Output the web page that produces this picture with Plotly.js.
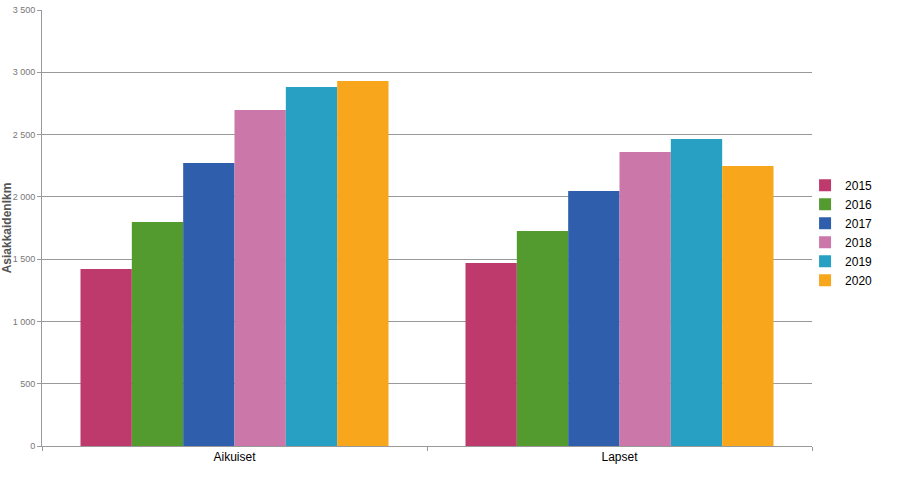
<!DOCTYPE html>
<html>
<head>
<meta charset="utf-8">
<script src="https://cdn.plot.ly/plotly-3.0.1.min.js"></script>
<style>html,body{margin:0;padding:0;background:#fff;}#chart{width:897px;height:478px;}</style>
</head>
<body>
<div id="chart"></div>
<script>
var categories = ["Aikuiset", "Lapset"];
var years = ["2015", "2016", "2017", "2018", "2019", "2020"];
var values2015 = [1421, 1469];
var values2016 = [1798, 1726];
var values2017 = [2272, 2047];
var values2018 = [2697, 2360];
var values2019 = [2882, 2464];
var values2020 = [2930, 2248];
var colors = ["#BE3A6D", "#549B2F", "#2F5FAC", "#CB77AA", "#28A0C3", "#F8A61B"];

var seriesValues = [values2015, values2016, values2017, values2018, values2019, values2020];
var traces = years.map(function (y, i) {
  return {
    type: "bar",
    name: y,
    x: categories,
    y: seriesValues[i],
    marker: {color: colors[i], line: {width: 0}},
    hoverinfo: "x+y+name"
  };
});

var layout = {
  width: 897,
  height: 478,
  margin: {l: 42, r: 85, t: 10, b: 32, pad: 0, autoexpand: false},
  paper_bgcolor: "#fff",
  plot_bgcolor: "#fff",
  barmode: "group",
  bargap: 0.2,
  bargroupgap: 0,
  separators: ", ",
  font: {family: "Liberation Sans, Arial, sans-serif", size: 12, color: "#000"},
  showlegend: true,
  legend: {
    x: 0.991, xanchor: "left", y: 0.489, yanchor: "middle",
    font: {size: 12, color: "#000"},
    itemwidth: 30, tracegroupgap: 0,
    bgcolor: "rgba(0,0,0,0)"
  },
  xaxis: {
    type: "category",
    showline: true, linecolor: "#999", linewidth: 1,
    ticks: "outside", tickson: "boundaries", ticklen: 4, tickcolor: "#999",
    tickfont: {size: 12, color: "#000"},
    showgrid: false, zeroline: false
  },
  yaxis: {
    range: [0, 3500],
    dtick: 500,
    tickformat: ",d",
    showline: true, linecolor: "#999", linewidth: 1,
    ticks: "outside", ticklen: 4, tickcolor: "#999",
    tickfont: {size: 9, color: "#777"},
    showgrid: true, gridcolor: "#999", gridwidth: 1,
    zeroline: false,
    title: {text: "Asiakkaidenlkm", font: {size: 12, color: "#555", weight: "bold"}, standoff: 7}
  }
};

Plotly.newPlot("chart", traces, layout, {displayModeBar: false, staticPlot: true});
</script>
</body>
</html>
